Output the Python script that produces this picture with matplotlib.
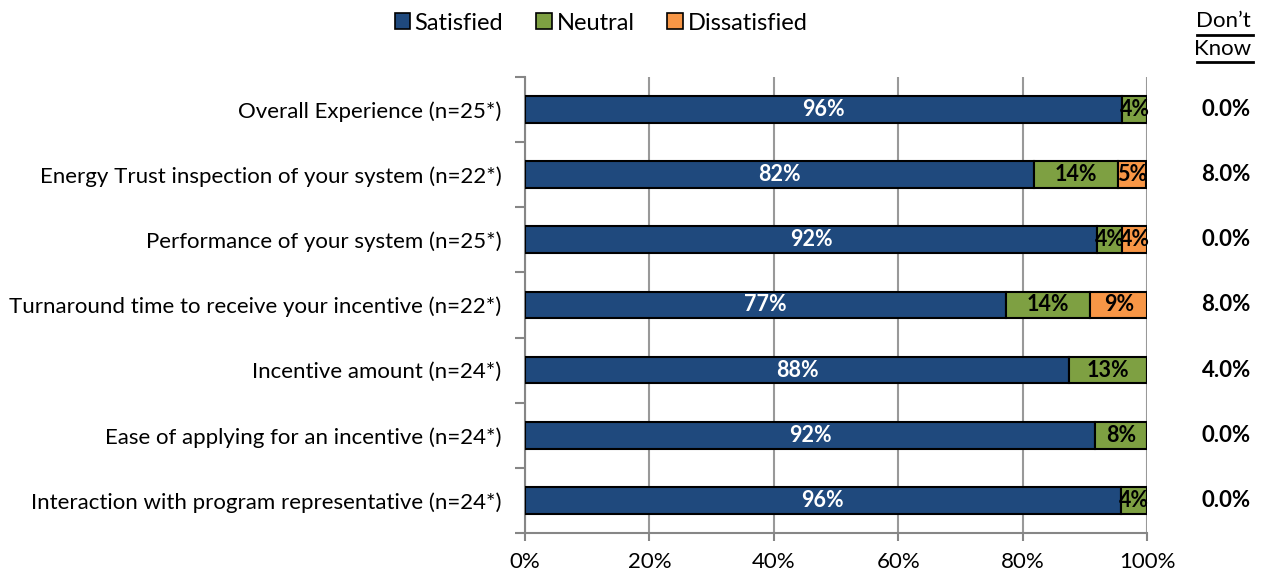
import matplotlib.pyplot as plt
import matplotlib.transforms as mtransforms
from matplotlib.lines import Line2D
from matplotlib.patches import Patch
import numpy as np

plt.rcParams['font.family'] = ['Lato', 'DejaVu Sans']

categories = [
    "Overall Experience (n=25*)",
    "Energy Trust inspection of your system (n=22*)",
    "Performance of your system (n=25*)",
    "Turnaround time to receive your incentive (n=22*)",
    "Incentive amount (n=24*)",
    "Ease of applying for an incentive (n=24*)",
    "Interaction with program representative (n=24*)",
]
satisfied = [96.0, 81.8, 92.0, 77.3, 87.5, 91.7, 95.8]
neutral = [4.0, 13.6, 4.0, 13.6, 12.5, 8.3, 4.2]
dissatisfied = [0.0, 4.5, 4.0, 9.1, 0.0, 0.0, 0.0]
dont_know = [0.0, 8.0, 0.0, 8.0, 4.0, 0.0, 0.0]

series = [
    ("Satisfied", satisfied, "#1F497D", "white"),
    ("Neutral", neutral, "#7EA042", "black"),
    ("Dissatisfied", dissatisfied, "#F79646", "black"),
]

fig = plt.figure(figsize=(12.61, 5.78), dpi=100)
ax = fig.add_axes([0.4163, 0.0779, 0.4933, 0.7889])

y = np.arange(len(categories))
left = np.zeros(len(categories))
for name, vals, color, txt in series:
    vals = np.array(vals)
    ax.barh(y, vals, left=left, height=0.41, color=color,
            edgecolor="black", linewidth=1.5, zorder=3, label=name)
    for yi, l, v in zip(y, left, vals):
        if v > 0:
            ax.text(l + v / 2, yi, "%d%%" % int(v + 0.5), ha="center", va="center",
                    color=txt, fontsize=15.5, fontweight="bold", zorder=4)
    left = left + vals

ax.set_xlim(0, 100)
ax.set_ylim(len(categories) - 0.5, -0.5)
ax.set_xticks(np.arange(0, 101, 20))
ax.set_xticklabels(["%d%%" % v for v in range(0, 101, 20)], fontsize=16)
ax.set_yticks(y)
ax.set_yticklabels(categories, fontsize=16)
ax.set_yticks(np.arange(-0.5, len(categories)), minor=True)
ax.tick_params(axis="y", which="major", length=0, pad=17)
ax.tick_params(axis="y", which="minor", length=7, color="#868686", width=1.5)
ax.tick_params(axis="x", length=6, color="#868686", width=1.5, pad=8)
ax.grid(axis="x", color="#999999", linewidth=1.5, zorder=0)
for s in ["top", "right"]:
    ax.spines[s].set_visible(False)
for s in ["left", "bottom"]:
    ax.spines[s].set_color("#868686")
    ax.spines[s].set_linewidth(1.5)

# Don't Know column on the right
dk_x = 1251 / 1261
trans = mtransforms.blended_transform_factory(fig.transFigure, ax.transData)
for yi, v in zip(y, dont_know):
    ax.text(dk_x, yi, "%.1f%%" % v, transform=trans,
            ha="right", va="center", fontsize=16, fontweight="bold")
fig.text(dk_x, 1 - 21 / 578, "Don\u2019t", ha="right", va="center", fontsize=16)
fig.text(dk_x, 1 - 49 / 578, "Know", ha="right", va="center", fontsize=16)
fig.add_artist(Line2D([1197 / 1261, 1253 / 1261], [1 - 35 / 578] * 2, color="black", lw=2))
fig.add_artist(Line2D([1197 / 1261, 1253 / 1261], [1 - 62 / 578] * 2, color="black", lw=2))

handles = [Patch(facecolor=c, edgecolor="black", linewidth=1.2, label=n)
           for n, _, c, _ in series]
fig.legend(handles=handles, loc="center", bbox_to_anchor=(601 / 1261, 1 - 23 / 578),
           ncol=3, frameon=False, fontsize=17, handlelength=0.65, handleheight=0.65,
           handletextpad=0.2, columnspacing=1.4)

fig.savefig("out.png", dpi=100)
